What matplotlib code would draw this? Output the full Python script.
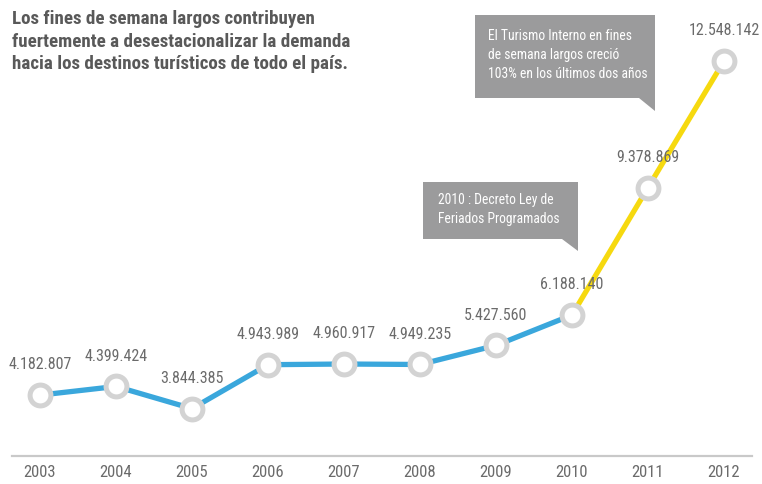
import matplotlib
matplotlib.use("Agg")
import matplotlib.pyplot as plt
from matplotlib import font_manager
from matplotlib.patches import Polygon

# data
years = [2003, 2004, 2005, 2006, 2007, 2008, 2009, 2010, 2011, 2012]
visitors = [4182807, 4399424, 3844385, 4943989, 4960917, 4949235, 5427560, 6188140, 9378869, 12548142]
value_labels = ["4.182.807", "4.399.424", "3.844.385", "4.943.989", "4.960.917",
                "4.949.235", "5.427.560", "6.188.140", "9.378.869", "12.548.142"]
title = ("Los fines de semana largos contribuyen\n"
         "fuertemente a desestacionalizar la demanda\n"
         "hacia los destinos turísticos de todo el país.")
note_top = "El Turismo Interno en fines\nde semana largos creció\n103% en los últimos dos años"
note_mid = "2010 : Decreto Ley de\nFeriados Programados"

# pick a narrow font if there is one
names = {f.name for f in font_manager.fontManager.ttflist}
narrow = "DejaVu Sans"
for cand in ["Roboto Condensed", "Liberation Sans Narrow", "DejaVu Sans Condensed", "Liberation Sans"]:
    if cand in names:
        narrow = cand
        break
plt.rcParams['font.family'] = [narrow, 'DejaVu Sans']

W, H = 762, 485
fig = plt.figure(figsize=(W / 100, H / 100), dpi=100)
ax = fig.add_axes([12 / W, 28 / H, 740 / W, 457 / H])
ax.set_xlim(2003 - 28 / 76, 2012 + 28 / 76)
ax.set_ylim(2.708e6 - 2 / 39.94 * 1e6, 14.10e6)

blue = "#3aa7dc"
yellow = "#f6d90f"
ax.plot(years[:8], visitors[:8], color=blue, lw=3.8, solid_capstyle="butt", zorder=2)
ax.plot(years[7:], visitors[7:], color=yellow, lw=3.8, solid_capstyle="butt", zorder=2)
ax.plot(years, visitors, ls="none", marker="o", ms=15, mfc="white", mec="#d3d3d3",
        mew=3.6, zorder=3)

for x, v, lab in zip(years, visitors, value_labels):
    ax.annotate(lab, (x, v), xytext=(0, 17), textcoords="offset points",
                ha="center", va="bottom", fontsize=11.5, color="#6b6b6b")

for s in ["top", "right", "left"]:
    ax.spines[s].set_visible(False)
ax.spines["bottom"].set_color("#c9c9c9")
ax.spines["bottom"].set_linewidth(1.6)
ax.set_yticks([])
ax.set_xticks(years)
ax.set_xticklabels([str(y) for y in years], fontsize=12, color="#6b6b6b")
ax.tick_params(axis="x", length=0, pad=6)

fig.text(12 / W, 1 - 10 / H, title, ha="left", va="top", fontsize=13.7,
         fontweight="bold", color="#595959", linespacing=1.33)


def px(x, y):
    return (x / W, 1 - y / H)


def callout(x0, y0, x1, y1, tip, text, tx, ty, fs):
    pts = [px(x0, y0), px(x1, y0), px(x1, tip), px(x1 - 16, y1), px(x0, y1)]
    fig.patches.append(Polygon(pts, closed=True, transform=fig.transFigure,
                               facecolor="#9b9b9c", edgecolor="none", zorder=1))
    fig.text(*px(tx, ty), text, ha="left", va="top", fontsize=fs,
             color="white", linespacing=1.45)


callout(475, 16, 655, 99, 112, note_top, 488, 29, 9.8)
callout(423, 183, 578, 240, 252, note_mid, 438, 193, 9.8)

fig.savefig("out.png", dpi=100)
